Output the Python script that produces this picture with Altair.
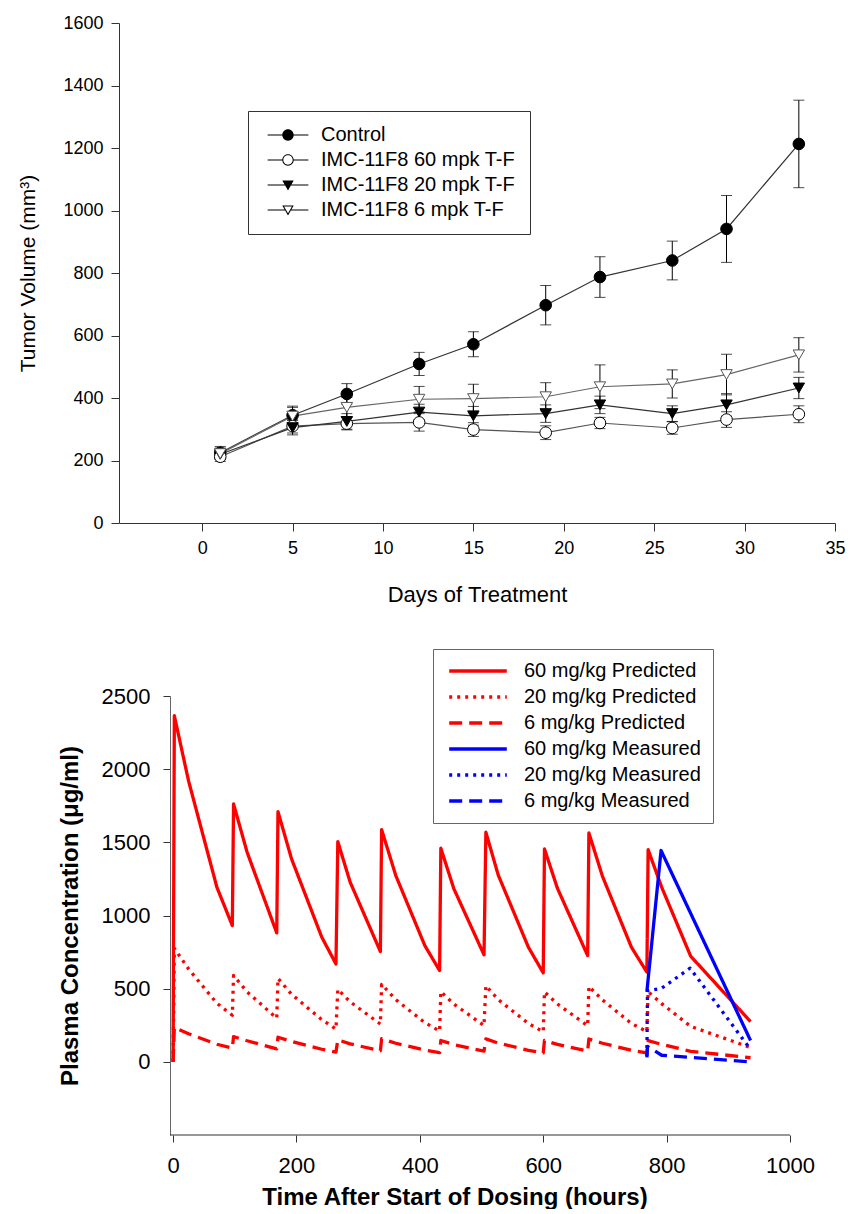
import altair as alt
import pandas as pd

FONT = "Liberation Sans"

# ---------------- top panel: tumor volume ----------------
days = [1, 5, 8, 12, 15, 19, 22, 26, 29, 33]
series_top = ["Control", "IMC-11F8 60 mpk T-F", "IMC-11F8 20 mpk T-F", "IMC-11F8 6 mpk T-F"]
control = [225, 345, 413, 509, 572, 697, 787, 840, 941, 1213]
control_err = [20, 25, 33, 37, 40, 63, 65, 62, 107, 140]
mpk60 = [212, 310, 318, 322, 299, 289, 320, 304, 331, 348]
mpk60_err = [15, 22, 20, 28, 22, 22, 18, 20, 25, 27]
mpk20 = [220, 305, 325, 355, 343, 350, 378, 350, 378, 432]
mpk20_err = [15, 23, 25, 25, 30, 28, 28, 25, 36, 34]
mpk6 = [222, 342, 370, 396, 398, 404, 436, 445, 475, 538]
mpk6_err = [18, 32, 32, 41, 46, 45, 70, 45, 65, 55]

rows = []
for name, vals, errs in zip(series_top, [control, mpk60, mpk20, mpk6],
                            [control_err, mpk60_err, mpk20_err, mpk6_err]):
    for d, v, e in zip(days, vals, errs):
        rows.append({"series": name, "day": d, "value": v, "lo": v - e, "hi": v + e})
top_df = pd.DataFrame(rows)

# ---------------- bottom panel: plasma concentration ----------------
t_pred = [0, 2, 25, 71, 96, 98, 120, 168, 170, 192, 241, 264, 267, 287, 336, 338, 361, 408,
          432, 434, 455, 504, 507, 527, 576, 600, 602, 623, 672, 674, 696, 743, 768, 770,
          792, 839, 936]
pred60 = [0, 2365, 1921, 1193, 931, 1762, 1432, 881, 1710, 1387, 852, 669, 1505, 1228, 754,
          1587, 1273, 795, 624, 1460, 1184, 731, 1569, 1277, 783, 608, 1455, 1186, 726, 1564,
          1268, 783, 613, 1450, 1193, 722, 275]
pred20 = [0, 775, 635, 400, 318, 590, 478, 298, 570, 462, 288, 224, 495, 410, 258, 530, 425,
          268, 210, 480, 395, 248, 520, 425, 262, 205, 478, 395, 247, 515, 423, 262, 207, 480,
          398, 242, 98]
pred6 = [0, 235, 192, 120, 94, 172, 144, 89, 168, 139, 86, 67, 150, 123, 76, 158, 127, 80, 63,
         146, 118, 73, 157, 128, 79, 61, 146, 119, 73, 156, 127, 79, 62, 145, 119, 72, 28]
t_meas60 = [768, 791, 936]
meas60 = [480, 1444, 146]
t_meas20 = [768, 769, 792, 838, 936]
meas20 = [40, 485, 503, 640, 85]
t_meas6 = [768, 769, 784, 792, 936]
meas6 = [30, 105, 66, 45, 0]

series_pk = ["60 mg/kg Predicted", "20 mg/kg Predicted", "6 mg/kg Predicted",
             "60 mg/kg Measured", "20 mg/kg Measured", "6 mg/kg Measured"]

pk_rows = []
for name, ts, vs in zip(series_pk,
                        [t_pred, t_pred, t_pred, t_meas60, t_meas20, t_meas6],
                        [pred60, pred20, pred6, meas60, meas20, meas6]):
    for t, v in zip(ts, vs):
        pk_rows.append({"series": name, "t": t, "conc": v})
pk_df = pd.DataFrame(pk_rows)

x_axis_extent = pd.DataFrame({"x0": [-5], "x1": [1000], "y0": [-500]})

# ---------------- styles ----------------
AX = "#333333"
line_colors = ["#333333", "#555555", "#333333", "#666666"]
point_style = {
    "Control": ("circle", "black", "black", 135),
    "IMC-11F8 60 mpk T-F": ("circle", "white", "black", 135),
    "IMC-11F8 20 mpk T-F": ("triangle-down", "black", "black", 130),
    "IMC-11F8 6 mpk T-F": ("triangle-down", "white", "#555555", 130),
}
# legend glyphs (line through marker) drawn purely as filled shapes
SEG_C = "M-3.4,-0.09H-0.9V0.09H-3.4Z M0.9,-0.09H3.4V0.09H0.9Z "
SEG_T = "M-3.4,-0.09H-0.5V0.09H-3.4Z M0.5,-0.09H3.4V0.09H0.5Z "
CIRC_OUT = "M-0.95,0A0.95,0.95,0,1,1,0.95,0A0.95,0.95,0,1,1,-0.95,0Z "
CIRC_IN = "M-0.78,0A0.78,0.78,0,1,0,0.78,0A0.78,0.78,0,1,0,-0.78,0Z"
TRI_OUT = "M-0.95,-0.75L0.95,-0.75L0,0.9Z "
TRI_IN = "M-0.656,-0.58L0,0.559L0.656,-0.58Z"
legend_paths = [
    SEG_C + CIRC_OUT,
    SEG_C + CIRC_OUT + CIRC_IN,
    SEG_T + TRI_OUT,
    SEG_T + TRI_OUT + TRI_IN,
]

xs_top = alt.X("day:Q", scale=alt.Scale(domain=[-4.6, 35], nice=False, zero=False),
               axis=alt.Axis(values=list(range(0, 36, 5)), title="Days of Treatment", format="d",
                             labelFontSize=18, titleFontSize=22, tickSize=8, labelPadding=8,
                             titlePadding=27, titleFontWeight="normal", labelFlush=False))
ys_top = alt.Y("value:Q", scale=alt.Scale(domain=[0, 1600], nice=False),
               axis=alt.Axis(values=list(range(0, 1601, 200)), title="Tumor Volume (mm³)", format="d",
                             labelFontSize=18, titleFontSize=21, tickSize=8, labelPadding=8,
                             titlePadding=24, titleFontWeight="normal", labelFlush=False))

base_top = alt.Chart(top_df)
lines_top = base_top.mark_line(strokeWidth=1.2).encode(
    x=xs_top, y=ys_top, detail="series:N",
    color=alt.Color("series:N", scale=alt.Scale(domain=series_top, range=line_colors), legend=None))
err_top = base_top.mark_rule(color="black", strokeWidth=1).encode(x="day:Q", y="lo:Q", y2="hi:Q")
cap_lo = base_top.mark_tick(orient="horizontal", size=11, thickness=1, color="black").encode(x="day:Q", y="lo:Q")
cap_hi = base_top.mark_tick(orient="horizontal", size=11, thickness=1, color="black").encode(x="day:Q", y="hi:Q")

point_layers = []
for name in series_top:
    shp, fill, stroke, size = point_style[name]
    point_layers.append(
        base_top.transform_filter(alt.datum.series == name).mark_point(
            shape=shp, filled=True, fill=fill, stroke=stroke, strokeWidth=1, size=size, opacity=1
        ).encode(x="day:Q", y="value:Q"))

# invisible layer whose only job is to carry the legend (line-through-marker symbols)
legend_top = base_top.mark_point(filled=True, color="black", opacity=0).encode(
    x="day:Q", y="value:Q",
    shape=alt.Shape("series:N", scale=alt.Scale(domain=series_top, range=legend_paths),
                    legend=alt.Legend(title=None, orient="none", legendX=129, legendY=88,
                                      symbolSize=144, symbolFillColor="black",
                                      symbolStrokeWidth=0, symbolOpacity=1,
                                      labelFontSize=20, labelFont=FONT,
                                      labelColor="black", padding=14, symbolOffset=16,
                                      labelOffset=23, rowPadding=5, strokeColor="#333333",
                                      fillColor="white", labelLimit=400)),
)

top = alt.layer(lines_top, err_top, cap_lo, cap_hi, *point_layers, legend_top).properties(
    width=716, height=500)

# bottom panel
xs_pk = alt.X("t:Q", scale=alt.Scale(domain=[-87.7, 1000], nice=False, zero=False),
              axis=alt.Axis(values=list(range(0, 1001, 200)), title="Time After Start of Dosing (hours)",
                            format="d", domain=False, labelFontSize=22, titleFontSize=24, tickSize=7,
                            labelPadding=13, titlePadding=9, titleFontWeight="bold",
                            labelFlush=False))
ys_pk = alt.Y("conc:Q", scale=alt.Scale(domain=[-500, 2500], nice=False, zero=False),
              axis=alt.Axis(values=list(range(0, 2501, 500)), title="Plasma Concentration (μg/ml)",
                            format="d", offset=-51, labelFontSize=22, titleFontSize=24, tickSize=7,
                            labelPadding=13, titlePadding=19, titleFontWeight="bold",
                            domainColor="#666666", labelFlush=False))

pk_lines = alt.Chart(pk_df).mark_line(strokeWidth=3.3, strokeJoin="round").encode(
    x=xs_pk, y=ys_pk, detail="series:N",
    color=alt.Color("series:N", scale=alt.Scale(domain=series_pk,
                    range=["#ff0000"] * 3 + ["#0000ff"] * 3),
                    legend=alt.Legend(title=None, orient="none", legendX=314, legendY=-47,
                                      symbolType="M-4.8,0H4.8", symbolSize=144,
                                      symbolStrokeWidth=3.5, labelFontSize=20, labelFont=FONT,
                                      labelColor="black", padding=12, symbolOffset=23,
                                      labelOffset=36, rowPadding=6, strokeColor="#666666",
                                      fillColor="white", labelLimit=400)),
    strokeDash=alt.StrokeDash("series:N", scale=alt.Scale(domain=series_pk,
                              range=[[1, 0], [3, 5], [13, 7], [1, 0], [3, 5], [13, 7]])),
)
pk_base = alt.Chart(x_axis_extent).mark_rule(color=AX, strokeWidth=1).encode(
    x="x0:Q", x2="x1:Q", y="y0:Q")

bottom = alt.layer(pk_base, pk_lines).properties(width=671, height=439)

chart = alt.vconcat(top, bottom, spacing=43).resolve_scale(
    color="independent", strokeDash="independent"
).properties(
    padding={"left": 17, "top": 14, "right": 0, "bottom": 0}, background="white"
).configure_view(stroke=None).configure_axis(
    grid=False, labelFont=FONT, titleFont=FONT, domainColor=AX, tickColor=AX,
    labelColor="black", titleColor="black", domainWidth=1, tickWidth=1
)

chart.save("out.html", embed_options={"renderer": "svg", "actions": False})
